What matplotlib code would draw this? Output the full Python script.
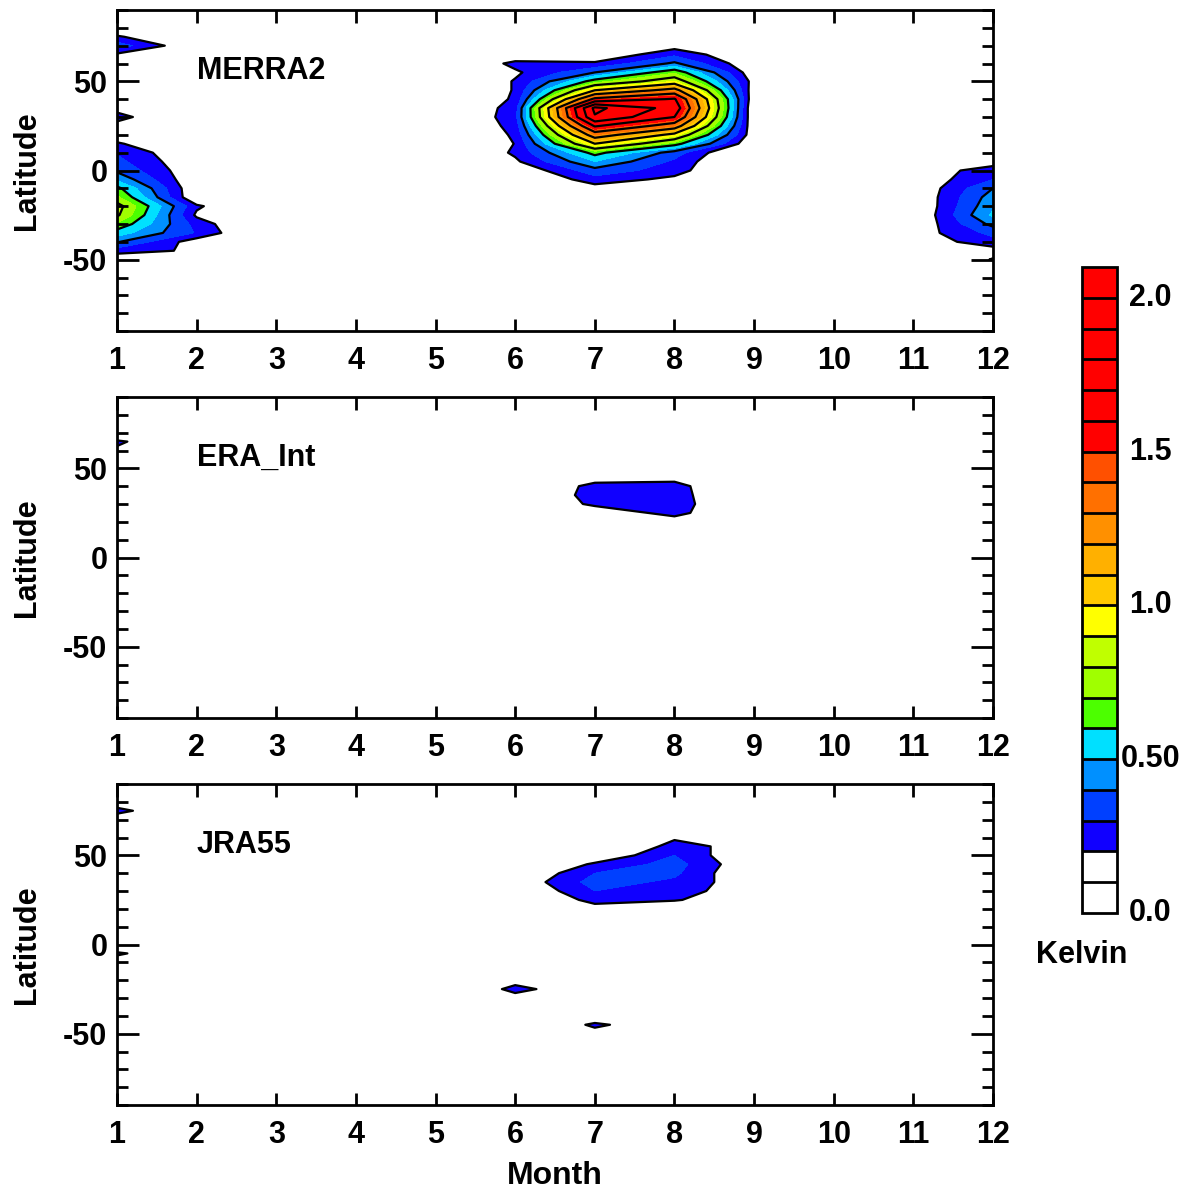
import matplotlib
matplotlib.use("Agg")
import matplotlib.pyplot as plt
import numpy as np
from matplotlib.ticker import MultipleLocator, FixedLocator

plt.rcParams['font.family'] = ['Liberation Sans', 'DejaVu Sans']
plt.rcParams['font.weight'] = 'bold'
plt.rcParams['axes.unicode_minus'] = False

# grid: months (columns) and latitudes (rows, from 90N down to 90S)
months = np.arange(1, 13)
lats = np.arange(90, -91, -5)

z = [0] * 12

# MERRA2 amplitude (K), rows = lats
merra2 = [
    z, z,
    [.05, 0, 0, 0, 0, 0, 0, 0, 0, 0, 0, 0],                 # 80
    [.22, 0, 0, 0, 0, 0, 0, 0, 0, 0, 0, 0],                 # 75
    [.35, .1, 0, 0, 0, 0, 0, .15, 0, 0, 0, 0],              # 70
    [.18, 0, 0, 0, 0, .1, .1, .28, .08, 0, 0, 0],           # 65
    [.05, 0, 0, 0, 0, .235, .22, .42, .1, 0, 0, 0],         # 60
    [0, 0, 0, 0, 0, .18, .4, .68, .12, 0, 0, 0],            # 55
    [0, 0, 0, 0, 0, .21, .65, .9, .15, 0, 0, 0],            # 50
    [0, 0, 0, 0, 0, .21, 1.0, 1.27, .12, 0, 0, 0],          # 45
    [.05, 0, 0, 0, 0, .22, 1.45, 1.62, .1, 0, 0, 0],        # 40
    [.15, 0, 0, 0, 0, .256, 2.05, 1.72, .07, 0, 0, 0],      # 35
    [.25, 0, 0, 0, 0, .267, 1.98, 1.6, .08, 0, 0, 0],       # 30
    [.15, 0, 0, 0, 0, .244, 1.62, 1.3, .1, 0, 0, 0],        # 25
    [.1, 0, 0, 0, 0, .22, 1.3, .95, .12, 0, 0, 0],          # 20
    [.22, 0, 0, 0, 0, .204, 1.0, .65, .09, 0, 0, 0],        # 15
    [.29, .09, 0, 0, 0, .22, .64, .35, 0, 0, 0, 0],         # 10
    [.33, .1, 0, 0, 0, .18, .5, .28, 0, 0, 0, .15],         # 5
    [.38, .11, 0, 0, 0, .1, .36, .25, 0, 0, .128, .25],     # 0
    [.48, .1, 0, 0, 0, .05, .26, .17, 0, 0, .11, .3],       # -5
    [.63, .1, 0, 0, 0, 0, .15, .05, 0, 0, .097, .4],        # -10
    [.72, .09, 0, 0, 0, 0, 0, 0, 0, 0, .09, .45],           # -15
    [.85, .22, 0, 0, 0, 0, 0, 0, 0, 0, .08, .48],           # -20
    [.82, .18, 0, 0, 0, 0, 0, 0, 0, 0, .08, .52],           # -25
    [.68, .26, 0, 0, 0, 0, 0, 0, 0, 0, .1, .43],            # -30
    [.55, .29, 0, 0, 0, 0, 0, 0, 0, 0, .136, .33],          # -35
    [.41, .14, 0, 0, 0, 0, 0, 0, 0, 0, .127, .26],          # -40
    [.25, .18, 0, 0, 0, 0, 0, 0, 0, 0, .08, .15],           # -45
    [.1, .05, 0, 0, 0, 0, 0, 0, 0, 0, 0, .21],              # -50
    z, z, z, z, z, z, z, z,
]

era_int = [
    z, z, z, z, z,
    [.23, 0, 0, 0, 0, 0, 0, 0, 0, 0, 0, 0],                 # 65
    [.17, 0, 0, 0, 0, 0, 0, 0, 0, 0, 0, 0],                 # 60
    z, z,
    [0, 0, 0, 0, 0, 0, .12, .15, 0, 0, 0, 0],               # 45
    [0, 0, 0, 0, 0, 0, .25, .25, 0, 0, 0, 0],               # 40
    [0, 0, 0, 0, 0, .05, .25, .26, 0, 0, 0, 0],             # 35
    [0, 0, 0, 0, 0, .03, .23, .27, 0, 0, 0, 0],             # 30
    [0, 0, 0, 0, 0, 0, .1, .25, 0, 0, 0, 0],                # 25
    [0, 0, 0, 0, 0, 0, 0, .12, 0, 0, 0, 0],                 # 20
    z, z, z, z, z, z, z, z, z, z, z, z, z, z, z, z, z, z, z, z, z, z,
]

jra55 = [
    z, z,
    [.1, 0, 0, 0, 0, 0, 0, 0, 0, 0, 0, 0],                  # 80
    [.25, 0, 0, 0, 0, 0, 0, 0, 0, 0, 0, 0],                 # 75
    [.1, 0, 0, 0, 0, 0, 0, 0, 0, 0, 0, 0],                  # 70
    [0, 0, 0, 0, 0, 0, 0, .05, 0, 0, 0, 0],                 # 65
    [0, 0, 0, 0, 0, 0, 0, .18, 0, 0, 0, 0],                 # 60
    [0, 0, 0, 0, 0, 0, 0, .25, .14, 0, 0, 0],               # 55
    [0, 0, 0, 0, 0, 0, .1, .3, .08, 0, 0, 0],               # 50
    [.1, 0, 0, 0, 0, .02, .22, .34, .1, 0, 0, 0],           # 45
    [.205, 0, 0, 0, 0, .078, .3, .32, .08, 0, 0, 0],        # 40
    [.1, 0, 0, 0, 0, .114, .34, .28, .12, 0, 0, 0],         # 35
    [0, 0, 0, 0, 0, .078, .3, .25, .125, 0, 0, 0],          # 30
    [0, 0, 0, 0, 0, .04, .24, .21, .11, 0, 0, 0],           # 25
    [0, 0, 0, 0, 0, 0, .15, .1, 0, 0, 0, 0],                # 20
    z, z, z, z,
    [.23, 0, 0, 0, 0, 0, 0, 0, 0, 0, 0, 0],                 # -5
    [.1, 0, 0, 0, 0, 0, 0, 0, 0, 0, 0, 0],                  # -10
    z,
    [0, 0, 0, 0, 0, .15, 0, 0, 0, 0, 0, 0],                 # -20
    [0, 0, 0, 0, 0, .24, .09, 0, 0, 0, 0, 0],               # -25
    [0, 0, 0, 0, 0, .15, 0, 0, 0, 0, 0, 0],                 # -30
    z,
    [0, 0, 0, 0, 0, 0, .12, 0, 0, 0, 0, 0],                 # -40
    [0, 0, 0, 0, 0, .053, .22, .115, 0, 0, 0, 0],           # -45
    [0, 0, 0, 0, 0, 0, .16, 0, 0, 0, 0, 0],                 # -50
    z, z, z, z, z, z, z, z,
]

names = ['MERRA2', 'ERA_Int', 'JRA55']
fields = [merra2, era_int, jra55]

levels = np.round(np.arange(0, 2.11, 0.1), 2)
line_levels = np.round(np.arange(0.2, 2.01, 0.2), 2)
colors = ['#ffffff', '#ffffff', '#1000ff', '#0040ff', '#0090ff', '#00e0ff',
          '#4cff00', '#a0ff00', '#c0ff00', '#ffff00', '#ffc800', '#ffb000',
          '#ff9000', '#ff7000', '#ff5000',
          '#ff0000', '#ff0000', '#ff0000', '#ff0000', '#ff0000', '#ff0000']

W, H = 1181, 1190
fig = plt.figure(figsize=(W / 100, H / 100), dpi=100)

panel_tops = [10, 397, 784]
ph = 321
for k, (name, data) in enumerate(zip(names, fields)):
    top = panel_tops[k]
    ax = fig.add_axes([117 / W, (H - top - ph) / H, 876 / W, ph / H])
    arr = np.array(data, dtype=float)[::-1]
    la = lats[::-1]
    cf = ax.contourf(months, la, arr, levels=levels, colors=colors)
    ax.contour(months, la, arr, levels=line_levels, colors='k', linewidths=1.6)
    ax.set_xlim(1, 12)
    ax.set_ylim(-90, 90)
    ax.xaxis.set_major_locator(MultipleLocator(1))
    ax.yaxis.set_major_locator(FixedLocator([-50, 0, 50]))
    ax.yaxis.set_minor_locator(MultipleLocator(10))
    ax.tick_params(axis='both', which='both', direction='in', top=True, right=True,
                   width=2, labelsize=22)
    ax.tick_params(axis='x', which='major', length=9, pad=11)
    ax.tick_params(axis='y', which='major', length=16, pad=7)
    ax.tick_params(axis='y', which='minor', length=8)
    for s in ax.spines.values():
        s.set_linewidth(2)
    ax.set_ylabel('Latitude', fontsize=22, fontweight='bold')
    ax.yaxis.set_label_coords(-0.086, 0.5)
    ax.text(2.0, 56, name, fontsize=22, fontweight='bold', va='center', ha='left')
    if k == 2:
        ax.set_xlabel('Month', fontsize=23, fontweight='bold')
        ax.xaxis.set_label_coords(0.5, -0.175)

cax = fig.add_axes([1082 / W, (H - 913) / H, 35 / W, 646 / H])
cb = fig.colorbar(cf, cax=cax, drawedges=True)
cb.outline.set_linewidth(2)
cb.dividers.set_linewidth(2)
cb.dividers.set_color('k')
cax.set_yticks([])
for v, lab in zip([0.0, 0.5, 1.0, 1.5, 2.0], ['0.0', '0.50', '1.0', '1.5', '2.0']):
    cax.text(1.95, v, lab, transform=cax.get_yaxis_transform(), ha='center',
             va='center', fontsize=22, fontweight='bold')
cax.text(0.0, -0.065, 'Kelvin', transform=cax.transAxes, ha='center', va='center',
         fontsize=22, fontweight='bold')

fig.savefig('out.png', dpi=100)
